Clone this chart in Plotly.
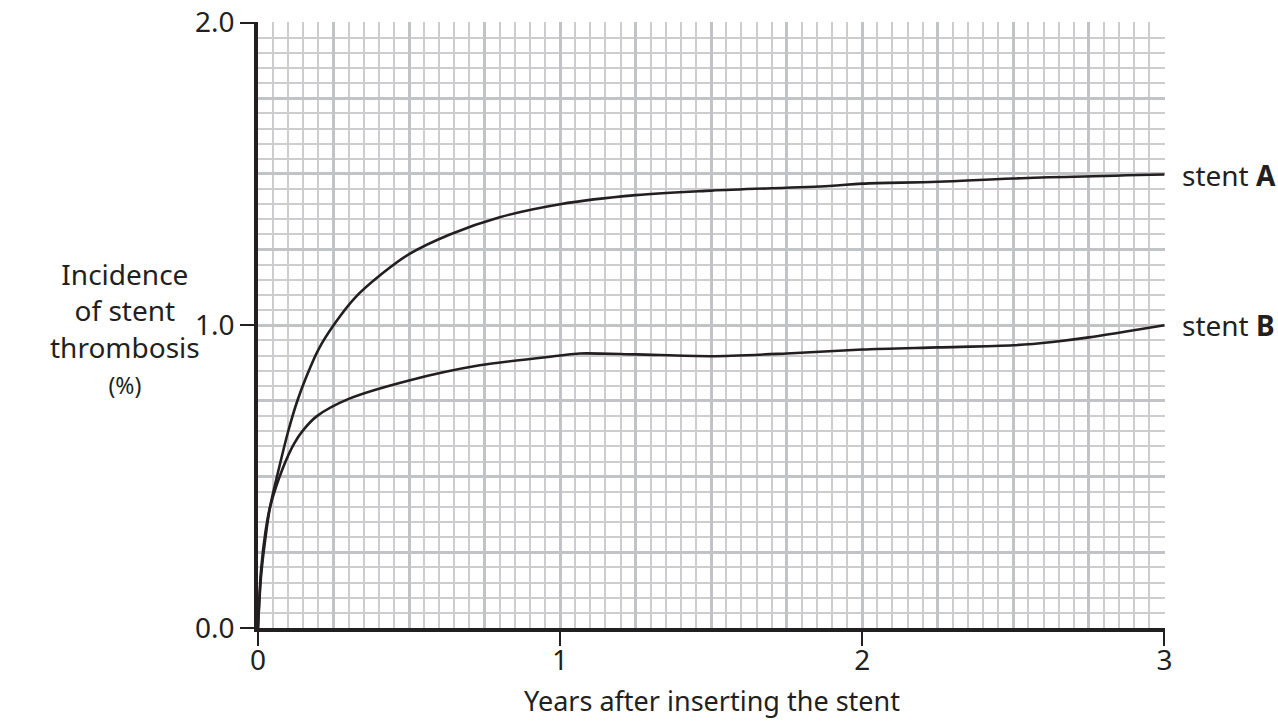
import plotly.graph_objects as go

# Data
years_a = [0, 0.01, 0.025, 0.04, 0.07, 0.10, 0.13, 0.16, 0.20, 0.25, 0.32, 0.41, 0.50, 0.635, 0.80, 1.0, 1.25, 1.5, 1.89, 2.0, 2.25, 2.5, 3.0]
stent_a = [0, 0.17, 0.30, 0.40, 0.53, 0.65, 0.75, 0.83, 0.92, 1.0, 1.09, 1.17, 1.235, 1.30, 1.357, 1.40, 1.43, 1.445, 1.46, 1.468, 1.474, 1.485, 1.498]
years_b = [0, 0.01, 0.025, 0.04, 0.083, 0.12, 0.149, 0.195, 0.30, 0.50, 0.734, 1.0, 1.065, 1.25, 1.5, 1.75, 2.0, 2.25, 2.5, 2.63, 2.75, 3.0]
stent_b = [0, 0.19, 0.32, 0.40, 0.53, 0.61, 0.653, 0.70, 0.757, 0.818, 0.868, 0.90, 0.907, 0.904, 0.898, 0.907, 0.92, 0.927, 0.934, 0.945, 0.96, 1.0]

x_ticks = [0, 1, 2, 3]
x_tick_text = ["0", "1", "2", "3"]
y_ticks = [0, 1, 2]
y_tick_text = ["0.0", "1.0", "2.0"]

ink = "#231f20"
font_family = "Noto Sans"
fs = 28

fig = go.Figure()
fig.add_trace(go.Scatter(x=years_a, y=stent_a, mode="lines", line=dict(color=ink, width=2.6, shape="spline", smoothing=1.0),
                         xaxis="x", yaxis="y", showlegend=False, hoverinfo="skip"))
fig.add_trace(go.Scatter(x=years_b, y=stent_b, mode="lines", line=dict(color=ink, width=2.6, shape="spline", smoothing=0.8),
                         xaxis="x2", yaxis="y2", showlegend=False, hoverinfo="skip"))

grid_axis = dict(showgrid=True, gridcolor="#c2c3c6", gridwidth=3, zeroline=False, automargin=False,
                 showticklabels=False, ticks="", showline=False, layer="below traces")

fig.update_layout(
    width=1278, height=722,
    margin=dict(l=258, r=113, t=22, b=94, autoexpand=False),
    paper_bgcolor="white", plot_bgcolor="white",
    font=dict(family=font_family, color=ink, size=fs),
    xaxis=dict(range=[0, 3.002], dtick=0.25, tick0=0,
               minor=dict(dtick=0.05, showgrid=True, gridcolor="#cdcdcf", gridwidth=1.5),
               **grid_axis),
    yaxis=dict(range=[0, 2.002], dtick=0.25, tick0=0,
               minor=dict(dtick=0.05, showgrid=True, gridcolor="#cdcdcf", gridwidth=1.5),
               **grid_axis),
    xaxis2=dict(overlaying="x", matches="x", tickmode="array", tickvals=x_ticks, ticktext=x_tick_text,
                showgrid=False, zeroline=False, showline=True, linecolor=ink, linewidth=4, automargin=False,
                ticks="outside", ticklen=14, tickwidth=1.5, tickcolor=ink, ticklabeloverflow="allow",
                ticklabelstandoff=-10,
                tickfont=dict(size=fs, color=ink, family=font_family), side="bottom"),
    yaxis2=dict(overlaying="y", matches="y", tickmode="array", tickvals=y_ticks, ticktext=y_tick_text,
                showgrid=False, zeroline=False, showline=True, linecolor=ink, linewidth=3.5, automargin=False,
                ticks="outside", ticklen=14, tickwidth=1.5, tickcolor=ink, ticklabeloverflow="allow",
                tickfont=dict(size=fs, color=ink, family=font_family), side="left", anchor="x2"),
)

fig.add_annotation(text="Years after inserting the stent", xref="paper", yref="paper", x=0.5, y=-0.1535,
                   xanchor="center", yanchor="bottom", showarrow=False,
                   font=dict(size=27, color=ink, family=font_family))
fig.add_annotation(text="Incidence<br>of stent<br>thrombosis<br><span style='font-size:23px'>(%)</span>",
                   xref="paper", yref="paper", x=-0.1466, y=0.495, xanchor="center", yanchor="middle",
                   showarrow=False, font=dict(size=fs, color=ink, family=font_family), align="center")
fig.add_annotation(text="stent <b>A</b>", xref="paper", yref="y2", x=1.0165, y=stent_a[-1],
                   xanchor="left", yanchor="middle", showarrow=False, font=dict(size=fs, color=ink, family=font_family))
fig.add_annotation(text="stent <b>B</b>", xref="paper", yref="y2", x=1.0165, y=stent_b[-1],
                   xanchor="left", yanchor="middle", showarrow=False, font=dict(size=fs, color=ink, family=font_family))

# remove the default 8px page margin so the figure sits at the window's top-left corner
fig.write_html("out.html", config={"displayModeBar": False},
               post_script="document.body.style.margin='0';document.body.style.overflow='hidden';")
